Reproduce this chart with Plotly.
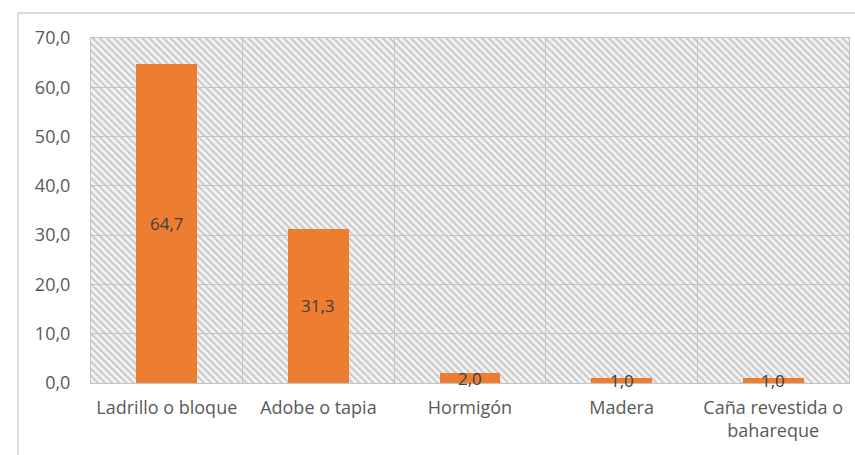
import base64
import plotly.graph_objects as go

categories = ["Ladrillo o bloque", "Adobe o tapia", "Hormigón", "Madera", "Caña revestida o<br>bahareque"]
values = [64.7, 31.3, 2.0, 1.0, 1.0]
y_max = 70
y_ticks = [0, 10, 20, 30, 40, 50, 60, 70]

W, H = 855, 455
L, R, T, B = 91, 6, 38, 72
pw, ph = W - L - R, H - T - B

# diagonal hatch image for the plot background
svg = f'''<svg xmlns="http://www.w3.org/2000/svg" width="{pw}" height="{ph}">
<defs><pattern id="h" width="5" height="5" patternUnits="userSpaceOnUse" patternTransform="rotate(-45)">
<rect width="5" height="5" fill="#f4f4f4"/><rect x="0" y="0" width="2.2" height="5" fill="#cbcbcb"/></pattern></defs>
<rect width="{pw}" height="{ph}" fill="url(#h)"/></svg>'''
src = "data:image/svg+xml;base64," + base64.b64encode(svg.encode()).decode()

fig = go.Figure()
fig.add_trace(go.Bar(
    x=categories, y=values, width=0.4,
    marker=dict(color="#ED7D31", line=dict(width=0)),
    showlegend=False,
))

for c, v in zip(categories, values):
    fig.add_annotation(x=c, y=v / 2, text=f"{v:.1f}".replace(".", ","),
                       showarrow=False, font=dict(family="Open Sans", size=17, color="#404040"))

fig.add_layout_image(source=src, xref="paper", yref="paper", x=0, y=1, sizex=1, sizey=1,
                     sizing="stretch", xanchor="left", yanchor="top", layer="below")

fig.add_shape(type="rect", xref="paper", yref="paper",
              x0=(18 - L) / pw, x1=1.05, y0=-0.3, y1=(H - B - 13) / ph,
              line=dict(color="#cfcfcf", width=1.5), fillcolor="rgba(0,0,0,0)", layer="below")

fig.update_layout(
    width=W, height=H,
    margin=dict(l=L, r=R, t=T, b=B),
    paper_bgcolor="white", plot_bgcolor="rgba(0,0,0,0)",
    bargap=0,
    separators=",.",
    font=dict(family="Open Sans", size=18, color="#595959"),
    xaxis=dict(type="category", tickson="boundaries", showgrid=True, gridcolor="#c4c4c4", gridwidth=1,
               ticks="", showline=True, linecolor="#c4c4c4", mirror=True, range=[-0.5, 4.5],
               ticklabelstandoff=8, tickfont=dict(size=18, color="#595959")),
    yaxis=dict(range=[0, y_max], tickvals=y_ticks, tickformat=".1f", showgrid=True,
               gridcolor="#c4c4c4", gridwidth=1, zeroline=False, showline=True,
               linecolor="#c4c4c4", mirror=True, ticklabelstandoff=16,
               tickfont=dict(size=18, color="#595959")),
)

fig.write_html("out.html", config={"displayModeBar": False},
               post_script="document.body.style.margin='0';")
